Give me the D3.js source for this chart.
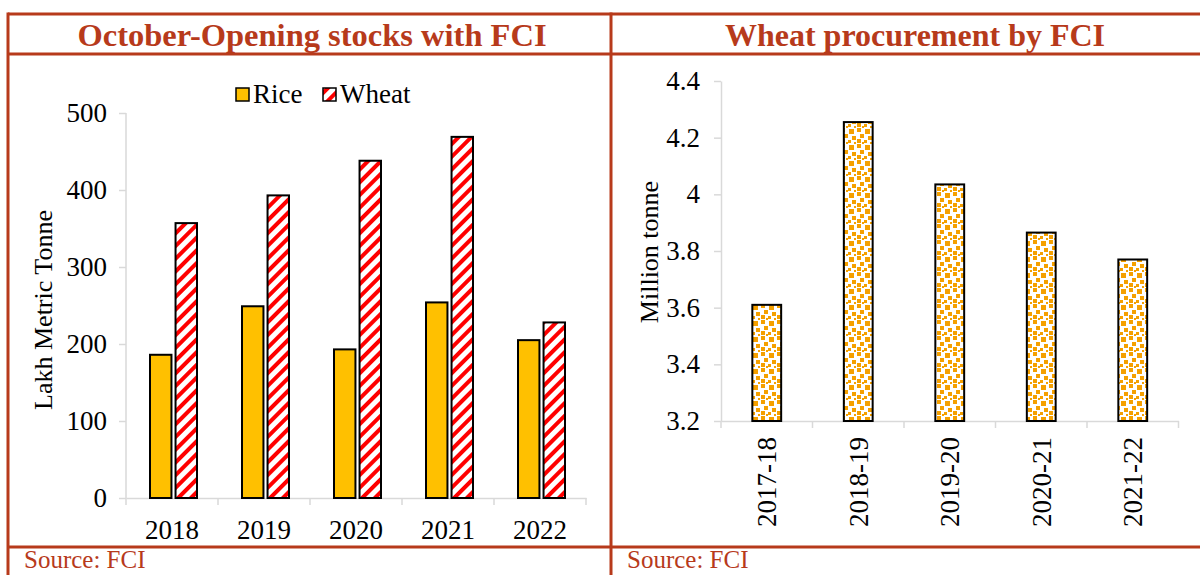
<!DOCTYPE html>
<html>
<head>
<meta charset="utf-8">
<script src="https://cdn.jsdelivr.net/npm/d3@7"></script>
<style>
  body { margin: 0; background: #fff; }
  svg text { font-family: "Liberation Serif", "Times New Roman", serif; }
</style>
</head>
<body>
<div id="chart"></div>
<script>
// chart data
var years = ["2018", "2019", "2020", "2021", "2022"];
var series = ["Rice", "Wheat"];
var riceStock = [186, 249, 193, 254, 205];
var wheatStock = [357, 393, 438, 469, 228];
var stockTicks = [0, 100, 200, 300, 400, 500];

var seasons = ["2017-18", "2018-19", "2019-20", "2020-21", "2021-22"];
var procurement = [3.61, 4.255, 4.035, 3.865, 3.77];
var procTicks = [3.2, 3.4, 3.6, 3.8, 4.0, 4.2, 4.4];

var w = 1200, h = 575;
var rust = "#b73a1b";
var axisGrey = "#d9d9d9";

var svg = d3.select("#chart").append("svg")
  .attr("width", w)
  .attr("height", h);

// patterns
var defs = svg.append("defs");
var stripe = defs.append("pattern")
  .attr("id", "stripes")
  .attr("patternUnits", "userSpaceOnUse")
  .attr("width", 9).attr("height", 9)
  .attr("patternTransform", "rotate(45)");
stripe.append("rect").attr("width", 9).attr("height", 9).attr("fill", "#fff");
stripe.append("rect").attr("width", 4).attr("height", 9).attr("fill", "#ff0000");

var confetti = defs.append("pattern")
  .attr("id", "confetti")
  .attr("patternUnits", "userSpaceOnUse")
  .attr("width", 16).attr("height", 16);
confetti.append("rect").attr("width", 16).attr("height", 16).attr("fill", "#fff");
[[1, 1, 5], [9, 0, 4], [12, 6, 4], [4, 8, 4], [0, 12, 3], [9, 11, 4], [14, 14, 2], [6, 14, 2]]
  .forEach(function(s) {
    confetti.append("rect")
      .attr("x", s[0]).attr("y", s[1])
      .attr("width", s[2]).attr("height", s[2])
      .attr("fill", "#f5a000");
  });

// frame
var frame = svg.append("g").attr("stroke", rust).attr("stroke-width", 3);
frame.append("line").attr("x1", 8).attr("x2", w).attr("y1", 14).attr("y2", 14);
frame.append("line").attr("x1", 8).attr("x2", w).attr("y1", 54).attr("y2", 54);
frame.append("line").attr("x1", 8).attr("x2", w).attr("y1", 547).attr("y2", 547);
frame.append("line").attr("x1", 8).attr("x2", 8).attr("y1", 12.5).attr("y2", h);
frame.append("line").attr("x1", 611).attr("x2", 611).attr("y1", 12.5).attr("y2", h);

// titles
svg.append("text")
  .attr("x", 312).attr("y", 46)
  .attr("text-anchor", "middle")
  .attr("font-size", 32.5).attr("font-weight", "bold")
  .attr("fill", rust)
  .text("October-Opening stocks with FCI");
svg.append("text")
  .attr("x", 915).attr("y", 46)
  .attr("text-anchor", "middle")
  .attr("font-size", 32).attr("font-weight", "bold")
  .attr("fill", rust)
  .text("Wheat procurement by FCI");

// source notes
svg.append("text").attr("x", 24).attr("y", 568)
  .attr("font-size", 25).attr("fill", rust).text("Source: FCI");
svg.append("text").attr("x", 627).attr("y", 568)
  .attr("font-size", 25).attr("fill", rust).text("Source: FCI");

function styleAxis(g) {
  g.selectAll("path, line").attr("stroke", axisGrey).attr("stroke-width", 1.5);
  g.selectAll("text")
    .attr("fill", "#000")
    .attr("font-size", 27);
}

// ---------- left chart ----------
var x0 = d3.scaleBand().domain(years).range([126, 586]);
var x1 = d3.scaleBand().domain(series).range([24, 71]).paddingInner(0.16);
var yL = d3.scaleLinear().domain([0, 500]).range([498, 113]);

svg.append("g")
  .attr("transform", "translate(126,0)")
  .call(d3.axisLeft(yL).tickValues(stockTicks).tickSize(7).tickPadding(12).tickSizeOuter(0))
  .call(styleAxis)
  .call(function(g) { g.select(".domain").remove(); })
  .call(function(g) {
    g.append("line").attr("x1", 0).attr("x2", 0)
      .attr("y1", yL(0)).attr("y2", yL(500))
      .attr("stroke", axisGrey).attr("stroke-width", 1.5);
  });

var xAxisL = svg.append("g")
  .attr("transform", "translate(0," + yL(0) + ")")
  .call(d3.axisBottom(x0).tickSize(0).tickPadding(22).tickSizeOuter(0))
  .call(styleAxis);
xAxisL.selectAll(".bound")
  .data(d3.range(years.length + 1))
  .join("line")
  .attr("x1", i => x0.range()[0] + i * x0.step())
  .attr("x2", i => x0.range()[0] + i * x0.step())
  .attr("y1", 0).attr("y2", 7)
  .attr("stroke", axisGrey).attr("stroke-width", 1.5);

var groups = svg.append("g").selectAll("g")
  .data(years)
  .join("g")
  .attr("transform", d => "translate(" + x0(d) + ",0)");

groups.append("rect")
  .attr("x", x1("Rice"))
  .attr("width", x1.bandwidth())
  .attr("y", (d, i) => yL(riceStock[i]))
  .attr("height", (d, i) => yL(0) - yL(riceStock[i]))
  .attr("fill", "#ffc000")
  .attr("stroke", "#000").attr("stroke-width", 2);

groups.append("rect")
  .attr("x", x1("Wheat"))
  .attr("width", x1.bandwidth())
  .attr("y", (d, i) => yL(wheatStock[i]))
  .attr("height", (d, i) => yL(0) - yL(wheatStock[i]))
  .attr("fill", "url(#stripes)")
  .attr("stroke", "#000").attr("stroke-width", 2);

svg.append("text")
  .attr("transform", "translate(52,310) rotate(-90)")
  .attr("text-anchor", "middle")
  .attr("font-size", 26)
  .text("Lakh Metric Tonne");

// legend
var legend = svg.append("g").attr("transform", "translate(236,88)");
var legendFill = { Rice: "#ffc000", Wheat: "url(#stripes)" };
var legendX = { Rice: 0, Wheat: 87 };
series.forEach(function(s) {
  legend.append("rect")
    .attr("x", legendX[s]).attr("y", 0)
    .attr("width", 13).attr("height", 13)
    .attr("fill", legendFill[s])
    .attr("stroke", "#000").attr("stroke-width", 1.5);
  legend.append("text")
    .attr("x", legendX[s] + 17).attr("y", 15)
    .attr("font-size", 27)
    .text(s);
});

// ---------- right chart ----------
var xR = d3.scaleBand().domain(seasons).range([721, 1178.5])
  .paddingInner(0.685).paddingOuter(0.3425);
var yR = d3.scaleLinear().domain([3.2, 4.4]).range([421, 81]);

svg.append("g")
  .attr("transform", "translate(721,0)")
  .call(d3.axisLeft(yR).tickValues(procTicks).tickFormat(d3.format("~g")).tickSize(7).tickPadding(14).tickSizeOuter(0))
  .call(styleAxis);

var xAxisR = svg.append("g")
  .attr("transform", "translate(0," + yR(3.2) + ")")
  .call(d3.axisBottom(xR).tickSize(0).tickSizeOuter(0))
  .call(styleAxis);
xAxisR.selectAll(".tick text")
  .attr("transform", "rotate(-90)")
  .attr("text-anchor", "end")
  .attr("x", -16).attr("y", 0)
  .attr("dy", "0.35em");
xAxisR.selectAll(".bound")
  .data(d3.range(seasons.length + 1))
  .join("line")
  .attr("x1", i => 721 + i * xR.step())
  .attr("x2", i => 721 + i * xR.step())
  .attr("y1", 0).attr("y2", 7)
  .attr("stroke", axisGrey).attr("stroke-width", 1.5);

svg.append("g").selectAll("rect")
  .data(seasons)
  .join("rect")
  .attr("x", d => xR(d))
  .attr("width", xR.bandwidth())
  .attr("y", (d, i) => yR(procurement[i]))
  .attr("height", (d, i) => yR(3.2) - yR(procurement[i]))
  .attr("fill", "url(#confetti)")
  .attr("stroke", "#000").attr("stroke-width", 2);

svg.append("text")
  .attr("transform", "translate(658,252) rotate(-90)")
  .attr("text-anchor", "middle")
  .attr("font-size", 26)
  .text("Million tonne");
</script>
</body>
</html>
